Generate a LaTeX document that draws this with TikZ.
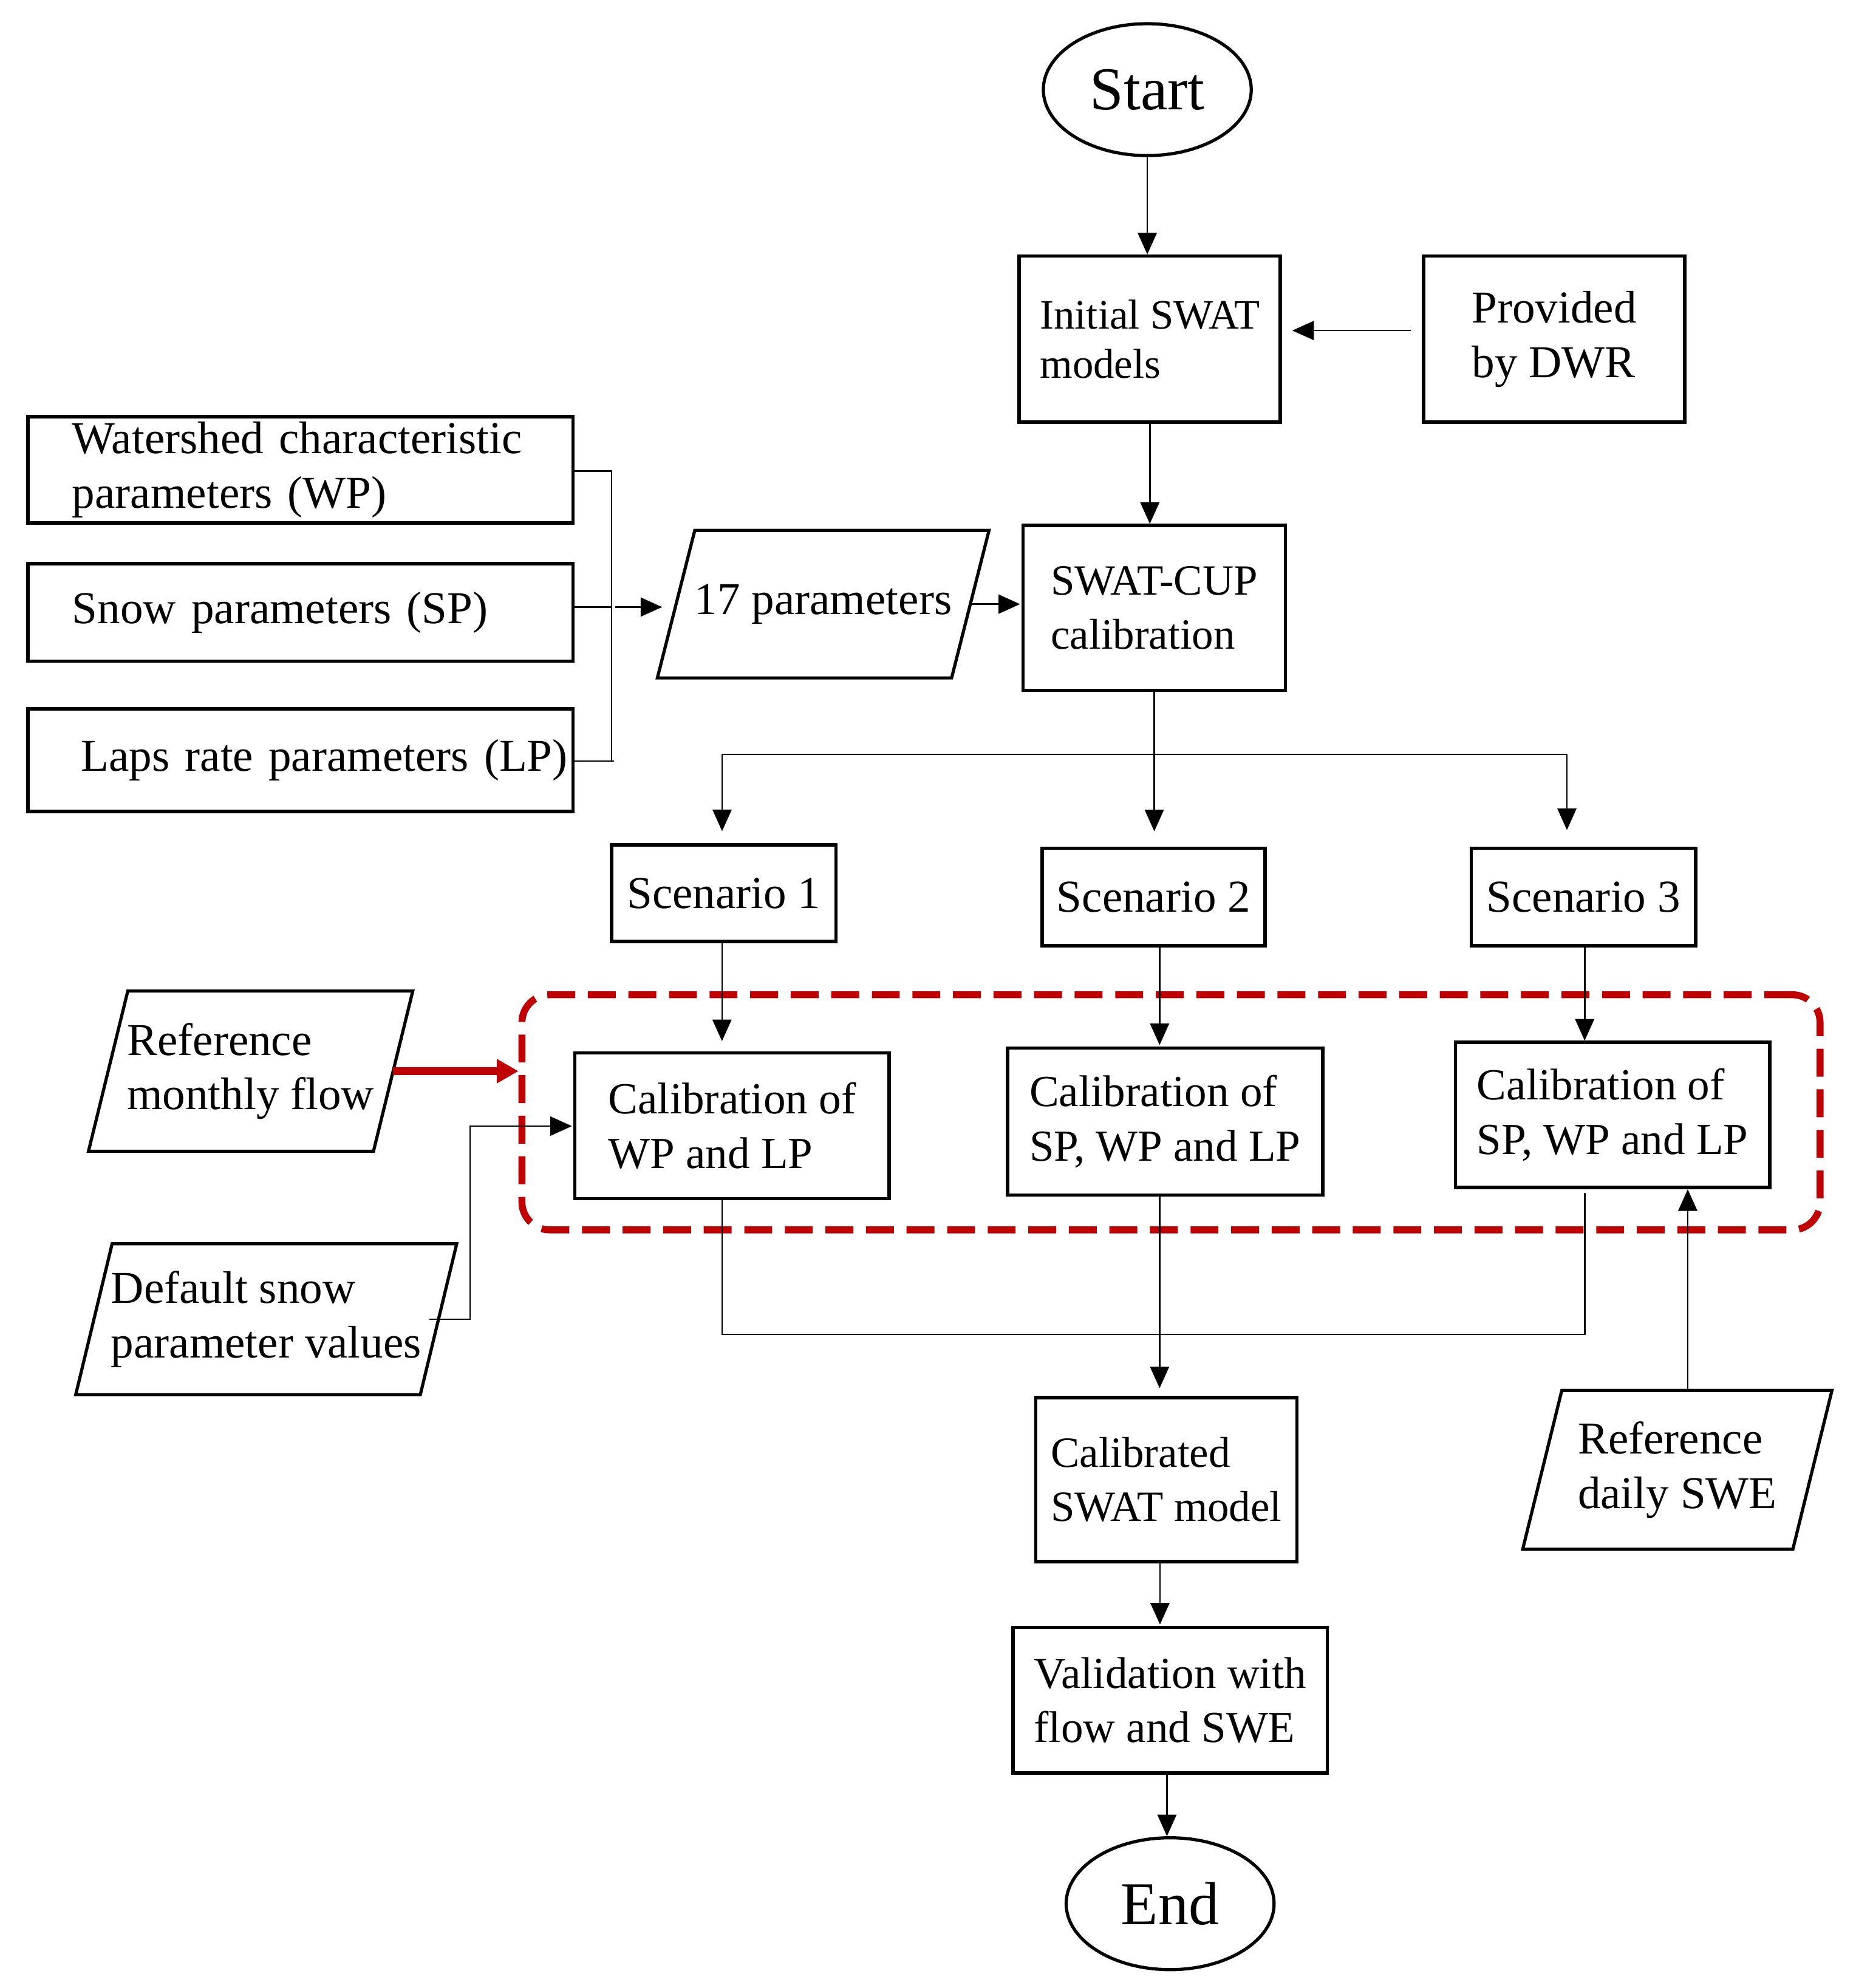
\documentclass[tikz,border=0pt]{standalone}
\usepackage{fontspec}
\setmainfont{Liberation Serif}
\usetikzlibrary{arrows.meta,shapes.geometric,calc}
\definecolor{dred}{RGB}{192,0,0}
\begin{document}
\begin{tikzpicture}[x=1pt,y=-1pt,
  box/.style={draw,line width=2.7pt,inner sep=0pt,align=left,font=\fontsize{36}{43}\selectfont},
  lbox/.style={box,text width=360pt,minimum width=430pt},
  term/.style={draw,ellipse,line width=2.5pt,inner sep=0pt,minimum width=164pt,minimum height=104pt,font=\fontsize{48}{56}\selectfont},
  ptext/.style={inner sep=0pt,align=left,font=\fontsize{36}{43}\selectfont},
  para/.style={line width=2.5pt,line join=miter},
  arr/.style={line width=1.2pt,-{Triangle[length=17pt,width=15pt]}},
  conn/.style={line width=1.2pt},
  redarr/.style={draw=dred,line width=6pt,-{Triangle[length=17pt,width=18pt]}},
  group/.style={draw=dred,line width=5.5pt,dash pattern=on 22pt off 10pt,rounded corners=22pt,inner sep=0pt}
]
\useasboundingbox (0,0) rectangle (1464,1568);

% dashed group
\node[group,minimum width=1024pt,minimum height=185.5pt] (grp) at (923.7,877.3) {};

% terminals
\node[term] (start) at (905,70.7) {Start};
\node[term] (end) at (923,1501.5) {End};

% boxes
\node[box,minimum width=206pt,minimum height=131pt,font=\fontsize{33}{39}\selectfont] (init) at (907,267.5) {Initial SWAT\\models};
\node[box,minimum width=206pt,minimum height=131pt] (prov) at (1226,267.5) {Provided\\by DWR};
\node[box,minimum width=207pt,minimum height=130pt,font=\fontsize{34}{43}\selectfont] (cup) at (910.5,479.5) {SWAT-CUP\\calibration};

\node[lbox,minimum height=84pt] (wp) at (237,370.5) {Watershed characteristic\\parameters (WP)};
\node[lbox,minimum height=77pt] (sp) at (237,483) {Snow parameters (SP)};
\node[lbox,minimum height=81pt] (lp) at (237,599.5) {\hspace*{7pt}\mbox{Laps rate parameters (LP)}};

\node[box,minimum width=177pt,minimum height=76pt] (s1) at (571,704.5) {Scenario 1};
\node[box,minimum width=176pt,minimum height=77pt] (s2) at (910,707.5) {Scenario 2};
\node[box,minimum width=177pt,minimum height=77pt] (s3) at (1249,707.5) {Scenario 3};

\node[box,minimum width=248pt,minimum height=115pt,font=\fontsize{35}{43}\selectfont] (c1) at (577.5,888) {Calibration of\\WP and LP};
\node[box,minimum width=248.5pt,minimum height=116pt,font=\fontsize{35}{43}\selectfont] (c2) at (919,884.6) {Calibration of\\SP, WP and LP};
\node[box,minimum width=248pt,minimum height=114.6pt,font=\fontsize{35}{43}\selectfont] (c3) at (1272,879.4) {Calibration of\\SP, WP and LP};

\node[box,minimum width=206pt,minimum height=129.5pt,font=\fontsize{34}{43}\selectfont] (cal) at (920,1167) {Calibrated\\SWAT model};
\node[box,minimum width=248pt,minimum height=114.7pt,font=\fontsize{35}{43}\selectfont] (val) at (923,1341) {Validation with\\flow and SWE};

% parallelograms
\node[ptext,minimum width=231.7pt,minimum height=116pt] (p17) at (649.35,476.5) {17 parameters};
\draw[para] ([xshift=-14.75pt]p17.south west) -- ([xshift=14.75pt]p17.north west) -- ([xshift=14.75pt]p17.north east) -- ([xshift=-14.75pt]p17.south east) -- cycle;

\node[ptext,minimum width=224.4pt,minimum height=126pt] (rmf) at (197.7,844.85) {Reference\\monthly flow};
\draw[para] ([xshift=-15.5pt]rmf.south west) -- ([xshift=15.5pt]rmf.north west) -- ([xshift=15.5pt]rmf.north east) -- ([xshift=-15.5pt]rmf.south east) -- cycle;

\node[ptext,minimum width=271.4pt,minimum height=118.6pt] (dsv) at (210,1040.5) {Default snow\\parameter values};
\draw[para] ([xshift=-14.35pt]dsv.south west) -- ([xshift=14.35pt]dsv.north west) -- ([xshift=14.35pt]dsv.north east) -- ([xshift=-14.35pt]dsv.south east) -- cycle;

\node[ptext,minimum width=212.7pt,minimum height=124.7pt] (swe) at (1323.1,1159.25) {Reference\\daily SWE};
\draw[para] ([xshift=-15.4pt]swe.south west) -- ([xshift=15.4pt]swe.north west) -- ([xshift=15.4pt]swe.north east) -- ([xshift=-15.4pt]swe.south east) -- cycle;

% connectors
\draw[arr] (start.south) -- (start.south |- init.north);
\draw[arr,shorten <=9pt,shorten >=8pt] (prov.west |- 0,260.7) -- (init.east |- 0,260.7);
\draw[arr] (init.south) -- (init.south |- cup.north);

\coordinate (brtop) at (482.4,371.4);
\coordinate (brmid) at (482.4,478.8);
\coordinate (brbot) at (482.4,600.3);
\draw[conn] (wp.east |- brtop) -- (brtop) -- (brbot);
\draw[conn] (sp.east |- brmid) -- (brmid);
\draw[conn] (lp.east |- brbot) -- ([xshift=2pt]brbot);
\draw[arr,shorten >=11pt] ([xshift=3pt]brmid) -- (brmid -| p17.west);
\draw[arr,shorten >=1pt] (p17.east) -- (p17.east -| cup.west);

\coordinate (sl) at (569.6,595);
\coordinate (sr) at (1236,595);
\draw[conn] (sl) -- (sr);
\draw[arr,shorten >=12pt] (cup.south) -- (cup.south |- s2.north);
\draw[arr,shorten >=9.6pt] (sl) -- (sl |- s1.north);
\draw[arr,shorten >=13pt] (sr) -- (sr |- s3.north);

\draw[arr,shorten >=8pt] ([xshift=-1.5pt]s1.south) -- ([xshift=-1.5pt]s1.south |- c1.north);
\draw[arr,shorten >=1pt] ([xshift=4.7pt]s2.south) -- ([xshift=4.7pt]s2.south |- c2.north);
\draw[arr] ([xshift=1pt]s3.south) -- ([xshift=1pt]s3.south |- c3.north);

\draw[redarr] (rmf.east) -- (rmf.east -| grp.west);

\coordinate (dk) at (370.9,1040.5);
\coordinate (du) at (370.9,888.2);
\draw[arr,shorten >=1pt] ([xshift=-7pt]dsv.east) -- (dk) -- (du) -- (du -| c1.west);

\coordinate (jl) at (569.7,1052.5);
\coordinate (jr) at (1250,1052.5);
\draw[conn] (jl |- c1.south) -- (jl) -- (jr) -- ([yshift=-3pt]jr |- c3.south);
\draw[arr,shorten >=6pt] ([xshift=-4.3pt]c2.south) -- ([xshift=-4.3pt]c2.south |- cal.north);

\draw[arr] ([xshift=8.2pt]swe.north) -- ([xshift=8.2pt]swe.north |- c3.south);

\draw[arr,shorten >=1pt] ([xshift=-5pt]cal.south) -- ([xshift=-5pt]cal.south |- val.north);
\draw[arr] ([xshift=-2.5pt]val.south) -- ([xshift=-2.5pt]val.south |- end.north);
\end{tikzpicture}
\end{document}
